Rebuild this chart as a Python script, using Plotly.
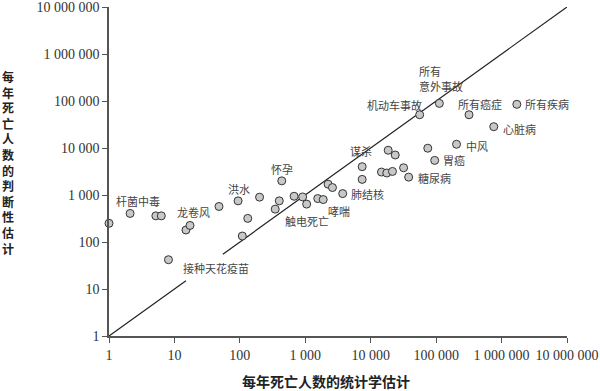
import math
import plotly.graph_objects as go

# ---- data ----
stat_est = [1, 2.1, 5.2, 6.3, 8.1, 15, 17.3, 48, 94, 132, 109, 200, 437, 347, 400,
            675, 910, 1050, 1550, 1880, 2230, 2600, 3730, 7400, 7400, 14600, 17600,
            21500, 31800, 18500, 23700, 38000, 74500, 95000, 205000, 56000, 112000,
            318000, 760000, 1710000]
judged_est = [250, 405, 360, 360, 42, 180, 225, 570, 750, 318, 134, 900, 2000, 500, 750,
              940, 910, 640, 840, 800, 1700, 1440, 1070, 2150, 4000, 3080, 2940,
              3170, 3800, 8950, 7100, 2400, 9900, 5450, 12000, 51000, 89000,
              51000, 28400, 85000]
point_labels = ["", "杆菌中毒", "", "", "接种天花疫苗", "", "龙卷风", "", "洪水", "", "", "",
                "怀孕", "", "", "", "", "触电死亡", "", "哮喘", "", "", "肺结核", "", "",
                "", "", "", "", "谋杀", "", "糖尿病", "", "胃癌", "中风", "机动车事故",
                "所有<br>意外事故", "所有癌症", "心脏病", "所有疾病"]
tick_vals = [1, 10, 100, 1000, 10000, 100000, 1000000, 10000000]
tick_text = ["1", "10", "100", "1 000", "10 000", "100 000", "1 000 000", "10 000 000"]
x_title = "每年死亡人数的统计学估计"
y_title = "每年死亡人数的判断性估计"

# ---- label placement (pixel offsets from point; yshift of first line) ----
label_style = {
    "杆菌中毒": dict(xanchor="center", xshift=8, yshift=12),
    "接种天花疫苗": dict(xanchor="center", xshift=48, yshift=-8),
    "龙卷风": dict(xanchor="center", xshift=3, yshift=13),
    "洪水": dict(xanchor="center", xshift=1, yshift=12),
    "怀孕": dict(xanchor="center", xshift=0, yshift=12),
    "触电死亡": dict(xanchor="center", xshift=0, yshift=-17),
    "哮喘": dict(xanchor="center", xshift=16, yshift=-11),
    "肺结核": dict(xanchor="left", xshift=6, yshift=0),
    "谋杀": dict(xanchor="right", xshift=-14, yshift=-1),
    "糖尿病": dict(xanchor="left", xshift=7, yshift=-1),
    "胃癌": dict(xanchor="left", xshift=6, yshift=0),
    "中风": dict(xanchor="left", xshift=7, yshift=-2),
    "机动车事故": dict(xanchor="center", xshift=-25, yshift=10),
    "所有<br>意外事故": dict(xanchor="left", xshift=-22, yshift=32),
    "所有癌症": dict(xanchor="center", xshift=11, yshift=11),
    "心脏病": dict(xanchor="left", xshift=7, yshift=-2),
    "所有疾病": dict(xanchor="left", xshift=6, yshift=0),
}
LINE_PITCH = 15

axis_color = "#555555"
label_font = dict(family="Noto Sans CJK SC", size=11, color="#444444")
TOP, BOT = 7, 336
PW, PH = 458, BOT - TOP  # plot area size in px

fig = go.Figure()

# identity line with a gap around one label
fig.add_trace(go.Scatter(
    x=[1, 15, None, 55, 1e7], y=[1, 15, None, 55, 1e7],
    mode="lines", line=dict(color="#222222", width=1.2),
    hoverinfo="skip", showlegend=False, cliponaxis=False))

fig.add_trace(go.Scatter(
    x=stat_est, y=judged_est, mode="markers",
    marker=dict(size=8, color="#c8c8c8", line=dict(color="#333333", width=1)),
    cliponaxis=False, showlegend=False))

for xv, yv, lab in zip(stat_est, judged_est, point_labels):
    if not lab:
        continue
    st = label_style[lab]
    for i, part in enumerate(lab.split("<br>")):
        fig.add_annotation(x=math.log10(xv), y=math.log10(yv),
                           text=part, showarrow=False, font=label_font,
                           yanchor="middle", xanchor=st["xanchor"],
                           xshift=st["xshift"], yshift=st["yshift"] - i * LINE_PITCH)

# axis titles
fig.add_annotation(xref="paper", yref="paper", x=(326 - 109) / PW, y=(BOT - 381) / PH,
                   text="<b>" + x_title + "</b>", showarrow=False,
                   xanchor="center", yanchor="middle",
                   font=dict(family="Noto Sans CJK SC", size=14, color="#222222"))
fig.add_annotation(xref="paper", yref="paper", x=(8 - 109) / PW,
                   y=(BOT - 162) / PH, text="<br>".join("<b>" + c + "</b>" for c in y_title),
                   showarrow=False, xanchor="center", yanchor="middle",
                   font=dict(family="Noto Sans CJK SC", size=12, color="#222222"))

axis_common = dict(
    type="log", range=[0, 7], tickvals=tick_vals, ticktext=tick_text,
    showline=True, linecolor=axis_color, linewidth=1.5,
    ticks="outside", ticklen=5, tickwidth=1.3, tickcolor=axis_color,
    showgrid=False, zeroline=False, automargin=False,
    ticklabeloverflow="allow",
    tickfont=dict(family="Liberation Serif", size=14, color="#333333"),
)
fig.update_xaxes(**axis_common)
fig.update_yaxes(**axis_common)

fig.update_layout(
    width=600, height=391,
    margin=dict(l=109, r=33, t=TOP, b=391 - BOT),
    plot_bgcolor="white", paper_bgcolor="white",
    showlegend=False,
)

fig.write_html("out.html", config={"displayModeBar": False},
               post_script="document.body.style.margin='0';")
